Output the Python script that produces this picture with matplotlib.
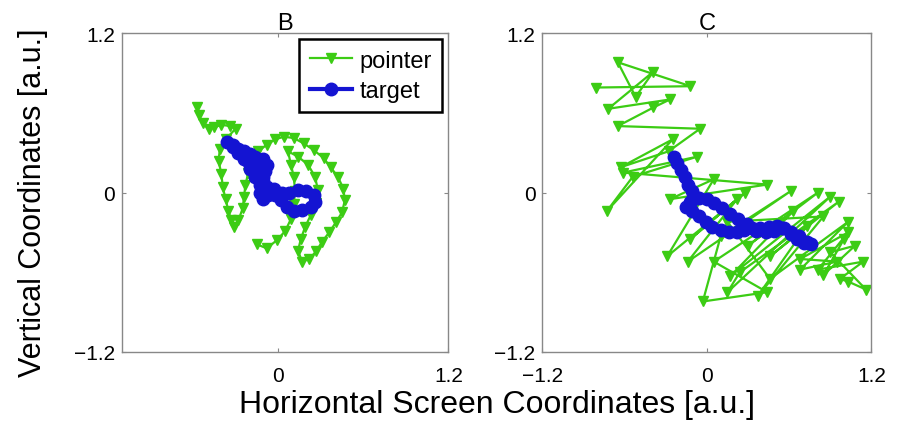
import matplotlib
matplotlib.use("Agg")
import matplotlib.pyplot as plt

plt.rcParams['font.family'] = ['Liberation Sans', 'DejaVu Sans']

GREEN = "#3ccc14"
BLUE = "#1414d2"

# panel B: pointer trajectory
b_pointer_x = [-0.57, -0.56, -0.53, -0.49, -0.45, -0.40, -0.34, -0.30, -0.37, -0.41,
               -0.42, -0.40, -0.39, -0.37, -0.35, -0.33, -0.31, -0.28, -0.25, -0.24,
               -0.23, -0.21, -0.18, -0.14, -0.08, -0.02, 0.04, 0.11, 0.18, 0.25,
               0.32, 0.37, 0.42, 0.46, 0.47, 0.45, 0.41, 0.36, 0.31, 0.27,
               0.22, 0.17, 0.14, 0.16, 0.19, 0.23, 0.27, 0.28, 0.26, 0.21,
               0.14, 0.07, 0.09, 0.11, 0.12, 0.11, 0.09, 0.05, -0.01, -0.08, -0.15]
b_pointer_y = [0.64, 0.58, 0.52, 0.48, 0.49, 0.51, 0.50, 0.48, 0.40, 0.33,
               0.24, 0.14, 0.04, -0.05, -0.14, -0.21, -0.26, -0.21, -0.12, -0.03,
               0.06, 0.15, 0.24, 0.31, 0.36, 0.40, 0.42, 0.41, 0.37, 0.32,
               0.26, 0.19, 0.12, 0.03, -0.06, -0.15, -0.22, -0.30, -0.37, -0.44,
               -0.50, -0.52, -0.44, -0.35, -0.26, -0.17, -0.08, 0.02, 0.12, 0.21,
               0.27, 0.31, 0.21, 0.12, 0.01, -0.09, -0.20, -0.29, -0.36, -0.42, -0.39]

# panel B: target trajectory
b_target_x = [-0.36, -0.32, -0.28, -0.24, -0.20, -0.16, -0.11, -0.08, -0.09, -0.11,
              -0.14, -0.18, -0.21, -0.20, -0.16, -0.13, -0.09, -0.07, -0.11, -0.13,
              -0.08, -0.03, 0.03, 0.08, 0.14, 0.20, 0.25, 0.26, 0.23, 0.17,
              0.11, 0.06, 0.02, -0.02, -0.07, -0.11, -0.16, -0.20, -0.24, -0.28, -0.32]
b_target_y = [0.38, 0.36, 0.33, 0.31, 0.29, 0.27, 0.25, 0.21, 0.16, 0.12,
              0.18, 0.21, 0.24, 0.18, 0.12, 0.06, 0.03, -0.02, -0.05, 0.00,
              0.04, 0.03, 0.00, 0.00, 0.02, 0.01, -0.02, -0.07, -0.11, -0.13,
              -0.14, -0.11, -0.06, -0.02, 0.03, 0.09, 0.15, 0.21, 0.25, 0.30, 0.34]

# panel C: pointer trajectory
c_pointer_x = [-0.81, -0.12, -0.65, -0.52, -0.39, -0.72, -0.27, -0.39, -0.65, -0.05,
               -0.28, -0.63, -0.25, -0.73, -0.54, -0.07, -0.61, 0.44, -0.27, 0.05,
               -0.29, 0.28, -0.12, 0.22, -0.14, 0.61, 0.10, -0.03, 0.44, 0.05,
               0.81, 0.30, 0.63, 0.17, 0.90, 0.15, 0.24, 0.96, 0.46, 0.73,
               0.37, 0.85, 0.15, 0.46, 1.03, 0.68, 0.95, 0.68, 1.03, 0.81,
               1.14, 0.97, 1.03, 1.16, 0.90, 1.08, 0.85, 1.00]
c_pointer_y = [0.79, 0.80, 0.98, 0.72, 0.91, 0.63, 0.70, 0.64, 0.50, 0.48,
               0.31, 0.19, 0.40, -0.14, 0.12, 0.27, 0.15, 0.06, -0.05, 0.10,
               -0.48, 0.00, -0.35, -0.05, -0.52, 0.01, -0.33, -0.82, -0.75, -0.52,
               0.00, -0.40, -0.14, -0.63, -0.03, -0.75, -0.60, -0.07, -0.48, -0.25,
               -0.78, -0.18, -0.22, -0.65, -0.22, -0.58, -0.52, -0.50, -0.30, -0.58,
               -0.52, -0.65, -0.67, -0.73, -0.45, -0.40, -0.62, -0.35]

# panel C: target trajectory
c_target_x = [-0.24, -0.22, -0.19, -0.16, -0.14, -0.11, -0.09, -0.12, -0.15, -0.11,
              -0.06, -0.01, 0.04, 0.10, 0.16, 0.22, 0.27, 0.33, 0.39, 0.45,
              0.51, 0.56, 0.61, 0.66, 0.71, 0.76, 0.73, 0.67, 0.61, 0.55,
              0.49, 0.43, 0.36, 0.29, 0.23, 0.17, 0.11, 0.05, 0.00, -0.06, -0.11]
c_target_y = [0.27, 0.22, 0.17, 0.12, 0.06, 0.01, -0.03, -0.07, -0.11, -0.14,
              -0.18, -0.22, -0.26, -0.28, -0.30, -0.30, -0.28, -0.27, -0.27, -0.26,
              -0.25, -0.27, -0.31, -0.35, -0.38, -0.39, -0.37, -0.33, -0.30, -0.27,
              -0.29, -0.30, -0.29, -0.24, -0.20, -0.16, -0.12, -0.08, -0.05, -0.04, -0.06]

panels = [
    ("B", b_pointer_x, b_pointer_y, b_target_x, b_target_y, (-1.1, 1.2), [0, 1.2]),
    ("C", c_pointer_x, c_pointer_y, c_target_x, c_target_y, (-1.2, 1.2), [-1.2, 0, 1.2]),
]
positions = [[0.135, 0.181, 0.361, 0.740], [0.600, 0.181, 0.364, 0.740]]

fig = plt.figure(figsize=(9.04, 4.31), dpi=100)
fig.patch.set_facecolor("white")

for (title, px, py, tx, ty, xlim, xticks), pos in zip(panels, positions):
    ax = fig.add_axes(pos)
    ax.plot(px, py, color=GREEN, lw=1.6, marker="v", ms=6.5, label="pointer")
    ax.plot(tx, ty, color=BLUE, lw=3, marker="o", ms=9, label="target")
    ax.set_xlim(*xlim)
    ax.set_ylim(-1.2, 1.2)
    ax.set_xticks(xticks)
    ax.set_xticklabels([("%g" % v).replace("-", "\u2212") for v in xticks])
    ax.set_yticks([-1.2, 0, 1.2])
    ax.set_yticklabels(["\u22121.2", "0", "1.2"])
    ax.tick_params(direction="in", length=3, width=0.8, color="#888888",
                   labelsize=15, top=True, right=True)
    ax.tick_params(axis="x", pad=10)
    ax.tick_params(axis="y", pad=5)
    for spine in ax.spines.values():
        spine.set_color("#888888")
        spine.set_linewidth(1.0)
    ax.set_title(title, fontsize=17, pad=3)
    if title == "B":
        leg = ax.legend(loc="upper right", numpoints=1, fontsize=17, handlelength=1.8,
                        fancybox=False, borderaxespad=0.25, handletextpad=0.3,
                        borderpad=0.45, labelspacing=0.35)
        leg.get_frame().set_edgecolor("black")
        leg.get_frame().set_linewidth(1.8)
        leg.get_frame().set_alpha(1)

fig.text(0.550, 0.06, "Horizontal Screen Coordinates [a.u.]", ha="center", va="center", fontsize=23)
fig.text(0.036, 0.53, "Vertical Coordinates [a.u.]", ha="center", va="center",
         rotation=90, fontsize=22)

fig.savefig("out.png", dpi=100, facecolor="white")
